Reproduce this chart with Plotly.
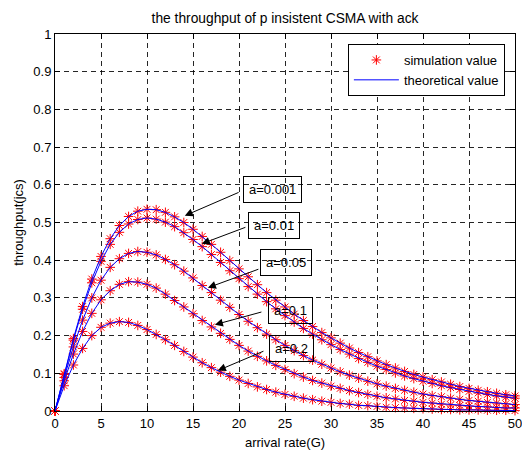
import plotly.graph_objects as go

# ---------------- data ----------------
arrival_rate = list(range(0, 51))

thr_a0001 = [0, 0.099, 0.192, 0.277, 0.350, 0.410, 0.457, 0.492, 0.516, 0.530, 0.535,
             0.534, 0.527, 0.515, 0.500, 0.482, 0.463, 0.442, 0.421, 0.399, 0.377,
             0.356, 0.335, 0.314, 0.294, 0.276, 0.257, 0.240, 0.224, 0.208, 0.194,
             0.180, 0.167, 0.155, 0.144, 0.133, 0.123, 0.114, 0.105, 0.097, 0.090,
             0.083, 0.077, 0.071, 0.065, 0.060, 0.055, 0.051, 0.047, 0.043, 0.040]
thr_a001 = [0, 0.097, 0.188, 0.270, 0.340, 0.397, 0.442, 0.474, 0.496, 0.508, 0.512,
            0.509, 0.501, 0.489, 0.473, 0.455, 0.436, 0.415, 0.394, 0.372, 0.351,
            0.330, 0.310, 0.290, 0.271, 0.253, 0.236, 0.219, 0.204, 0.189, 0.176,
            0.163, 0.151, 0.139, 0.129, 0.119, 0.110, 0.101, 0.093, 0.086, 0.079,
            0.073, 0.067, 0.062, 0.057, 0.052, 0.048, 0.044, 0.040, 0.037, 0.034]
thr_a005 = [0, 0.089, 0.170, 0.241, 0.300, 0.347, 0.381, 0.404, 0.418, 0.423, 0.421,
            0.414, 0.402, 0.388, 0.371, 0.353, 0.333, 0.314, 0.294, 0.275, 0.256,
            0.238, 0.221, 0.204, 0.189, 0.174, 0.160, 0.147, 0.135, 0.124, 0.114,
            0.104, 0.095, 0.087, 0.079, 0.072, 0.066, 0.060, 0.055, 0.050, 0.045,
            0.041, 0.038, 0.034, 0.031, 0.028, 0.026, 0.023, 0.021, 0.019, 0.017]
thr_a01 = [0, 0.080, 0.151, 0.211, 0.259, 0.295, 0.319, 0.336, 0.343, 0.342, 0.336,
           0.326, 0.310, 0.293, 0.276, 0.258, 0.240, 0.223, 0.206, 0.190, 0.174,
           0.159, 0.145, 0.133, 0.121, 0.110, 0.099, 0.090, 0.081, 0.074, 0.066,
           0.060, 0.054, 0.049, 0.044, 0.039, 0.035, 0.032, 0.028, 0.026, 0.023,
           0.021, 0.018, 0.016, 0.015, 0.013, 0.012, 0.011, 0.009, 0.008, 0.008]
thr_a02 = [0, 0.067, 0.122, 0.166, 0.200, 0.222, 0.233, 0.237, 0.235, 0.227, 0.216,
           0.203, 0.189, 0.174, 0.158, 0.143, 0.128, 0.115, 0.103, 0.092, 0.082,
           0.073, 0.064, 0.057, 0.050, 0.044, 0.039, 0.034, 0.030, 0.026, 0.023,
           0.020, 0.018, 0.015, 0.014, 0.012, 0.010, 0.009, 0.008, 0.007, 0.006,
           0.005, 0.004, 0.004, 0.003, 0.003, 0.003, 0.002, 0.002, 0.002, 0.001]

curve_labels = ["a=0.001", "a=0.01", "a=0.05", "a=0.1", "a=0.2"]
curves = [thr_a0001, thr_a001, thr_a005, thr_a01, thr_a02]

x_ticks = [0, 5, 10, 15, 20, 25, 30, 35, 40, 45, 50]
y_ticks = [0, 0.1, 0.2, 0.3, 0.4, 0.5, 0.6, 0.7, 0.8, 0.9, 1]
y_tick_text = ["0", "0.1", "0.2", "0.3", "0.4", "0.5", "0.6", "0.7", "0.8", "0.9", "1"]

# ---------------- figure ----------------
FONT = "Liberation Sans, Arial, sans-serif"
fig = go.Figure()

for i, ys in enumerate(curves):
    fig.add_trace(go.Scatter(
        x=arrival_rate, y=ys, mode="markers",
        marker=dict(symbol="asterisk-open", size=8, color="red",
                    line=dict(color="rgba(255,0,0,0.85)", width=1)),
        name="simulation value", showlegend=(i == 0), legendrank=1,
        cliponaxis=False))

for i, ys in enumerate(curves):
    fig.add_trace(go.Scatter(
        x=arrival_rate, y=ys, mode="lines",
        line=dict(color="blue", width=1),
        name="theoretical value", showlegend=(i == 0), legendrank=2))

# label boxes and arrows
box_pos = [(23.68, 0.588), (23.83, 0.493), (25.13, 0.393), (25.6, 0.266), (25.67, 0.167)]
arrow_tail = [(20.12, 0.5815), (20.86, 0.4887), (22.27, 0.3775), (22.6, 0.2636), (22.82, 0.1603)]
arrow_head = [(14.11, 0.518), (15.96, 0.4437), (16.62, 0.327), (17.38, 0.229), (17.7, 0.1073)]

for lab, (bx, by), (tx, ty), (hx, hy) in zip(curve_labels, box_pos, arrow_tail, arrow_head):
    fig.add_annotation(x=bx, y=by, xref="x", yref="y", text=lab, showarrow=False,
                       font=dict(family=FONT, size=13, color="black"),
                       bordercolor="black", borderwidth=1, borderpad=5,
                       bgcolor="rgba(0,0,0,0)")
    fig.add_annotation(x=hx, y=hy, ax=tx, ay=ty, xref="x", yref="y",
                       axref="x", ayref="y", text="", showarrow=True,
                       arrowhead=2, arrowsize=1.6, arrowwidth=1, arrowcolor="black")

axis_common = dict(
    showline=True, linecolor="black", linewidth=1, mirror="ticks",
    ticks="inside", ticklen=5, tickcolor="black", tickwidth=1,
    showgrid=True, gridcolor="rgba(0,0,0,0.85)", gridwidth=1, griddash="5px,4px",
    zeroline=False, tickfont=dict(family=FONT, size=13, color="black"),
    ticklabeloverflow="allow",
)

fig.update_xaxes(range=[0, 50], tickvals=x_ticks,
                 title=dict(text="arrival rate(G)", font=dict(family=FONT, size=13, color="black"),
                            standoff=10),
                 **axis_common)
fig.update_yaxes(range=[0, 1], tickvals=y_ticks, ticktext=y_tick_text,
                 title=dict(text="throughput(jcs)", font=dict(family=FONT, size=13, color="black"),
                            standoff=6),
                 **axis_common)

fig.update_layout(
    width=522, height=450,
    margin=dict(l=55, r=7, t=34, b=39, autoexpand=False),
    paper_bgcolor="white", plot_bgcolor="white",
    title=dict(text="the throughput of p insistent CSMA with ack",
               x=0.546, xanchor="center", y=1 - 18 / 450, yanchor="middle",
               yref="container", font=dict(family=FONT, size=13.8, color="black")),
    legend=dict(x=0.978, xanchor="right", y=0.9735, yanchor="top",
                bordercolor="black", borderwidth=1, bgcolor="white",
                font=dict(family=FONT, size=13, color="black"),
                itemwidth=45, tracegroupgap=0),
    showlegend=True,
)

fig.write_html("out.html", config={"displayModeBar": False},
               post_script="document.body.style.margin='0px';")
